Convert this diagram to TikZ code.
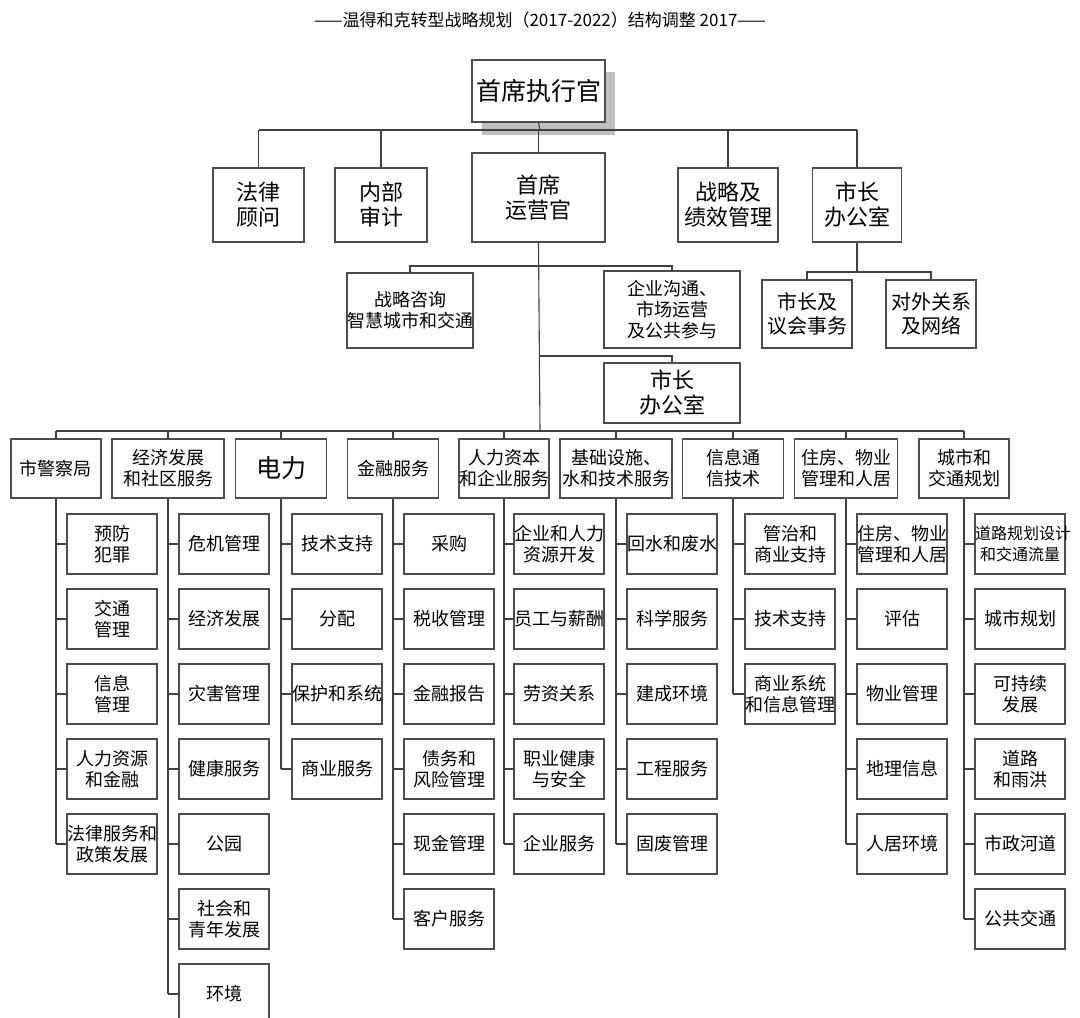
\documentclass[tikz,border=0pt]{standalone}
\usepackage{fontspec}
\setmainfont{Noto Sans CJK SC}
\begin{document}
\begin{tikzpicture}[x=1pt,y=-1pt,
  bx/.style={draw=black!70,line width=1.1pt,fill=white,align=center,inner sep=0pt,font=\fontsize{18}{21}\selectfont},
  ln/.style={draw=black!75,line width=1.1pt},
  big/.style={font=\fontsize{22}{25}\selectfont}]
\useasboundingbox (0,0) rectangle (1080,1018);
\node[font=\fontsize{17}{19}\selectfont] (title) at (540,20) {——温得和克转型战略规划（2017-2022）结构调整 2017——};
% CEO
\fill[black!25] (482,72) rectangle (615,135);
\node[bx,big,minimum width=133pt,minimum height=62pt,font=\fontsize{25}{28}\selectfont] (ceo) at (538.5,91) {首席执行官};
\coordinate (topbus) at (540,130);
\node[bx,big,minimum width=91pt,minimum height=74pt] (law) at (258.5,205) {法律\\顾问};
\node[bx,big,minimum width=92pt,minimum height=74pt] (audit) at (381,205) {内部\\审计};
\node[bx,big,minimum width=133pt,minimum height=89pt] (coo) at (538.5,197.5) {首席\\运营官};
\node[bx,big,minimum width=100pt,minimum height=74pt] (strat) at (728,205) {战略及\\绩效管理};
\node[bx,big,minimum width=89pt,minimum height=74pt] (mayor) at (857,205) {市长\\办公室};
\draw[ln] (ceo.south) -- (topbus);
\draw[ln] (law.north |- topbus) -- (mayor.north |- topbus);
\foreach \n in {law,audit,coo,strat,mayor} \draw[ln] (\n.north) -- (\n.north |- topbus);
% COO children
\node[bx,minimum width=124pt,minimum height=75pt] (sa) at (410,310.5) {战略咨询\\智慧城市和交通};
\node[bx,minimum width=136pt,minimum height=77pt] (cc) at (672,309.5) {企业沟通、\\市场运营\\及公共参与};
\node[bx,big,minimum width=136pt,minimum height=60pt] (mo2) at (672,393) {市长\\办公室};
\coordinate (sab) at (540,266);
\coordinate (mob) at (540,356);
\draw[ln] (sa.north) |- (sab) -| (cc.north);
\draw[ln] (mob) -| (mo2.north);
% Mayor office children
\node[bx,minimum width=90pt,minimum height=68pt,font=\fontsize{20}{24}\selectfont] (mc) at (807,314) {市长及\\议会事务};
\node[bx,minimum width=90pt,minimum height=68pt,font=\fontsize{20}{24}\selectfont] (er) at (931,314) {对外关系\\及网络};
\coordinate (mb) at (857,272);
\draw[ln] (mayor.south) -- (mb);
\draw[ln] (mc.north) |- (mb) -| (er.north);
% departments
\coordinate (bus) at (540,431);
\draw[ln] (coo.south) -- (bus);
\foreach \nm/\x/\w/\t in {
  d1/56/90/{市警察局},
  d2/168/112/{经济发展\\和社区服务},
  d3/281/91/{\fontsize{25}{28}\selectfont 电力},
  d4/393/91/{金融服务},
  d5/504/90/{人力资本\\和企业服务},
  d6/616/112/{基础设施、\\水和技术服务},
  d7/733/101/{信息通\\信技术},
  d8/846/103/{住房、物业\\管理和人居},
  d9/964/90/{城市和\\交通规划}}{
  \node[bx,text width=\w pt,minimum height=59pt] (\nm) at (\x,468.5) {\t};
  \draw[ln] (\nm.north) -- (\nm.north |- bus);
}
\draw[ln] (d1.north |- bus) -- (d9.north |- bus);
% children
\newcommand{\kids}[3]{%
  \foreach \t [count=\i] in {#3}{
    \node[bx,text width=90pt,minimum height=60pt] (#1c\i) at (#2,544+75*\i-75) {\t};
    \draw[ln] (#1c\i.west) -- (#1c\i.west -| #1.south);
    \xdef\lastkid{#1c\i}
  }
  \draw[ln] (#1.south) -- (#1.south |- \lastkid.west);
}
\kids{d1}{112}{{预防\\犯罪},{交通\\管理},{信息\\管理},{人力资源\\和金融},{法律服务和\\政策发展}}
\kids{d2}{224}{危机管理,经济发展,灾害管理,健康服务,公园,{社会和\\青年发展},环境}
\kids{d3}{337}{技术支持,分配,保护和系统,商业服务}
\kids{d4}{449}{采购,税收管理,金融报告,{债务和\\风险管理},现金管理,客户服务}
\kids{d5}{559}{{企业和人力\\资源开发},员工与薪酬,劳资关系,{职业健康\\与安全},企业服务}
\kids{d6}{672}{回水和废水,科学服务,建成环境,工程服务,固废管理}
\kids{d7}{790}{{管治和\\商业支持},技术支持,{商业系统\\和信息管理}}
\kids{d8}{902}{{住房、物业\\管理和人居},评估,物业管理,地理信息,人居环境}
\kids{d9}{1020}{{\fontsize{16}{20}\selectfont 道路规划设计\\和交通流量},城市规划,{可持续\\发展},{道路\\和雨洪},市政河道,公共交通}
\end{tikzpicture}
\end{document}
